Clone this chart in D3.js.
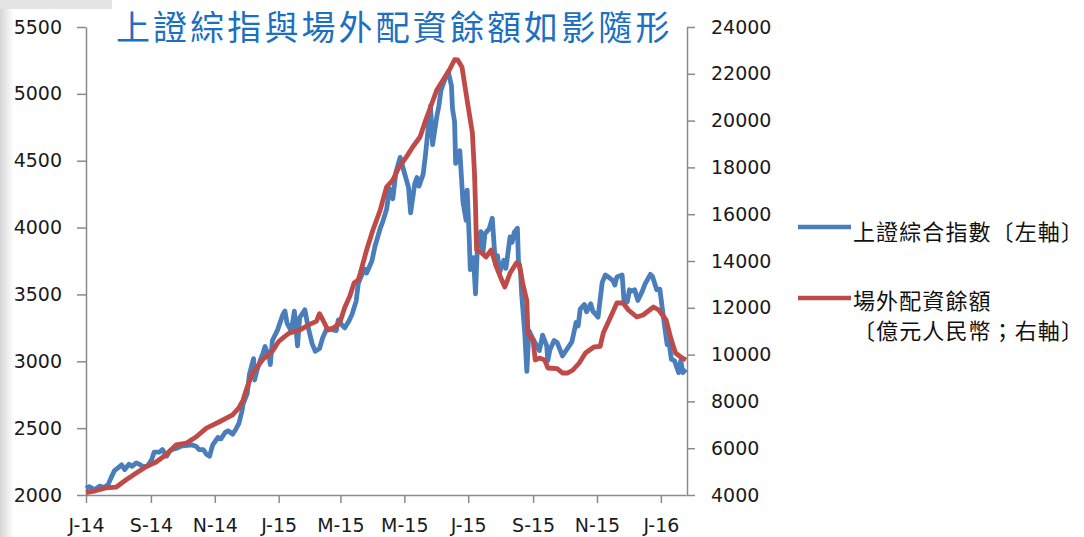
<!DOCTYPE html>
<html>
<head>
<meta charset="utf-8">
<script src="https://cdn.jsdelivr.net/npm/d3@7"></script>
<style>
  html, body { margin: 0; padding: 0; background: #fff; }
  svg { display: block; }
  .tick text { font-family: "DejaVu Sans", Verdana, sans-serif; font-size: 19px; fill: #1a1a1a; }
  .axis path, .axis line { stroke: #8a8a8a; stroke-width: 1.5px; }
</style>
</head>
<body>
<svg id="chart" width="1084" height="537"></svg>
<script>
var width = 1084;
var height = 537;

var titleText = '上證綜指與場外配資餘額如影隨形';
var legendLabels = ['上證綜合指數〔左軸〕', '場外配資餘額', '〔億元人民幣；右軸〕'];

// bimonthly ticks, labelled like J-14, S-14 ...
var xTickDates = ['2014-07-01', '2014-09-01', '2014-11-01', '2015-01-01', '2015-03-01',
  '2015-05-01', '2015-07-01', '2015-09-01', '2015-11-01', '2016-01-01'];
var leftTicks = [2000, 2500, 3000, 3500, 4000, 4500, 5000, 5500];
var rightTicks = [4000, 6000, 8000, 10000, 12000, 14000, 16000, 18000, 20000, 22000, 24000];

// 上證綜合指數 (left axis)
var sseData = [
  ['2014-07-01', 2050], ['2014-07-04', 2062], ['2014-07-09', 2040], ['2014-07-14', 2066],
  ['2014-07-18', 2058], ['2014-07-22', 2076], ['2014-07-25', 2130], ['2014-07-28', 2180],
  ['2014-07-31', 2200], ['2014-08-04', 2225], ['2014-08-07', 2190], ['2014-08-11', 2230],
  ['2014-08-14', 2215], ['2014-08-18', 2240], ['2014-08-21', 2230], ['2014-08-25', 2210],
  ['2014-08-29', 2218], ['2014-09-02', 2270], ['2014-09-04', 2320], ['2014-09-09', 2320],
  ['2014-09-12', 2340], ['2014-09-16', 2290], ['2014-09-19', 2330], ['2014-09-23', 2345],
  ['2014-09-26', 2350], ['2014-09-30', 2365], ['2014-10-10', 2375], ['2014-10-14', 2365],
  ['2014-10-17', 2340], ['2014-10-21', 2340], ['2014-10-24', 2305], ['2014-10-27', 2290],
  ['2014-10-30', 2375], ['2014-11-04', 2430], ['2014-11-07', 2420], ['2014-11-11', 2470],
  ['2014-11-14', 2480], ['2014-11-18', 2455], ['2014-11-21', 2490], ['2014-11-24', 2535],
  ['2014-11-27', 2630], ['2014-11-28', 2680], ['2014-12-02', 2760], ['2014-12-04', 2900],
  ['2014-12-08', 3020], ['2014-12-09', 2860], ['2014-12-11', 2925], ['2014-12-15', 3020],
  ['2014-12-17', 3060], ['2014-12-19', 3110], ['2014-12-23', 3030], ['2014-12-24', 2975],
  ['2014-12-26', 3155], ['2014-12-31', 3235], ['2015-01-05', 3350], ['2015-01-07', 3375],
  ['2015-01-09', 3285], ['2015-01-13', 3225], ['2015-01-16', 3375], ['2015-01-19', 3115],
  ['2015-01-21', 3325], ['2015-01-23', 3350], ['2015-01-26', 3385], ['2015-01-29', 3260],
  ['2015-02-02', 3130], ['2015-02-05', 3075], ['2015-02-09', 3095], ['2015-02-12', 3175],
  ['2015-02-16', 3245], ['2015-02-25', 3230], ['2015-02-27', 3310], ['2015-03-03', 3265],
  ['2015-03-05', 3250], ['2015-03-09', 3300], ['2015-03-12', 3350], ['2015-03-16', 3450],
  ['2015-03-18', 3580], ['2015-03-20', 3620], ['2015-03-24', 3690], ['2015-03-26', 3660],
  ['2015-03-31', 3750], ['2015-04-03', 3860], ['2015-04-08', 3995], ['2015-04-10', 4035],
  ['2015-04-14', 4135], ['2015-04-17', 4290], ['2015-04-20', 4215], ['2015-04-23', 4415],
  ['2015-04-27', 4525], ['2015-04-30', 4440], ['2015-05-05', 4300], ['2015-05-07', 4110],
  ['2015-05-11', 4330], ['2015-05-13', 4375], ['2015-05-15', 4310], ['2015-05-19', 4400],
  ['2015-05-21', 4530], ['2015-05-26', 4910], ['2015-05-28', 4620], ['2015-06-01', 4830],
  ['2015-06-03', 4910], ['2015-06-05', 5025], ['2015-06-09', 5115], ['2015-06-12', 5165],
  ['2015-06-15', 5060], ['2015-06-16', 4890], ['2015-06-18', 4790], ['2015-06-19', 4480],
  ['2015-06-23', 4575], ['2015-06-26', 4190], ['2015-06-29', 4055], ['2015-06-30', 4280],
  ['2015-07-02', 3915], ['2015-07-03', 3685], ['2015-07-06', 3775], ['2015-07-08', 3505],
  ['2015-07-09', 3710], ['2015-07-10', 3875], ['2015-07-13', 3970], ['2015-07-15', 3805],
  ['2015-07-17', 3955], ['2015-07-21', 3990], ['2015-07-24', 4070], ['2015-07-27', 3725],
  ['2015-07-29', 3790], ['2015-07-31', 3665], ['2015-08-04', 3755], ['2015-08-06', 3695],
  ['2015-08-10', 3930], ['2015-08-12', 3890], ['2015-08-14', 3965], ['2015-08-17', 3995],
  ['2015-08-18', 3750], ['2015-08-20', 3665], ['2015-08-21', 3510], ['2015-08-24', 3210],
  ['2015-08-26', 2925], ['2015-08-28', 3230], ['2015-09-01', 3165], ['2015-09-07', 3080],
  ['2015-09-10', 3195], ['2015-09-14', 3115], ['2015-09-15', 3005], ['2015-09-17', 3085],
  ['2015-09-21', 3155], ['2015-09-24', 3140], ['2015-09-29', 3040], ['2015-10-08', 3145],
  ['2015-10-12', 3290], ['2015-10-14', 3265], ['2015-10-16', 3390], ['2015-10-20', 3425],
  ['2015-10-22', 3370], ['2015-10-26', 3430], ['2015-10-28', 3375], ['2015-11-02', 3330],
  ['2015-11-04', 3460], ['2015-11-06', 3590], ['2015-11-09', 3645], ['2015-11-12', 3630],
  ['2015-11-16', 3605], ['2015-11-18', 3570], ['2015-11-20', 3630], ['2015-11-25', 3645],
  ['2015-11-27', 3435], ['2015-11-30', 3445], ['2015-12-02', 3535], ['2015-12-04', 3525],
  ['2015-12-07', 3535], ['2015-12-10', 3455], ['2015-12-14', 3520], ['2015-12-17', 3580],
  ['2015-12-22', 3650], ['2015-12-24', 3635], ['2015-12-28', 3535], ['2015-12-31', 3540],
  ['2016-01-04', 3295], ['2016-01-07', 3125], ['2016-01-08', 3185], ['2016-01-11', 3015],
  ['2016-01-14', 3005], ['2016-01-18', 2915], ['2016-01-20', 3005], ['2016-01-22', 2915],
  ['2016-01-25', 2940]
];

// 場外配資餘額, 億元人民幣 (right axis)
var marginData = [
  ['2014-07-01', 4100], ['2014-07-10', 4180], ['2014-07-20', 4300], ['2014-07-30', 4340],
  ['2014-08-08', 4640], ['2014-08-18', 4940], ['2014-08-27', 5200], ['2014-09-06', 5410],
  ['2014-09-15', 5710], ['2014-09-25', 6140], ['2014-10-05', 6220], ['2014-10-14', 6480],
  ['2014-10-24', 6860], ['2014-11-05', 7120], ['2014-11-18', 7420], ['2014-11-24', 7720],
  ['2014-11-28', 8060], ['2014-12-01', 8490], ['2014-12-07', 9210], ['2014-12-17', 9800],
  ['2014-12-26', 10150], ['2015-01-01', 10560], ['2015-01-06', 10750], ['2015-01-11', 10920],
  ['2015-01-21', 11050], ['2015-01-31', 11300], ['2015-02-06', 11420], ['2015-02-09', 11750],
  ['2015-02-12', 11500], ['2015-02-17', 11050], ['2015-02-24', 11180], ['2015-03-01', 11450],
  ['2015-03-05', 12000], ['2015-03-10', 12500], ['2015-03-14', 13060], ['2015-03-18', 13190],
  ['2015-03-20', 13490], ['2015-03-26', 14470], ['2015-04-01', 15325], ['2015-04-08', 16180],
  ['2015-04-14', 17160], ['2015-04-20', 17460], ['2015-04-26', 18017], ['2015-05-03', 18450],
  ['2015-05-09', 18872], ['2015-05-16', 19300], ['2015-05-22', 20100], ['2015-05-25', 20454],
  ['2015-06-01', 21309], ['2015-06-07', 21736], ['2015-06-13', 22163], ['2015-06-18', 22600],
  ['2015-06-21', 22590], ['2015-06-25', 22291], ['2015-06-28', 21437], ['2015-07-01', 20582],
  ['2015-07-05', 19471], ['2015-07-07', 17761], ['2015-07-08', 16308], ['2015-07-09', 14470],
  ['2015-07-14', 14342], ['2015-07-18', 14171], ['2015-07-23', 14470], ['2015-07-28', 13744],
  ['2015-08-02', 13188], ['2015-08-05', 12889], ['2015-08-10', 13487], ['2015-08-16', 13915],
  ['2015-08-19', 13829], ['2015-08-22', 13060], ['2015-08-26', 12300], ['2015-08-27', 10923],
  ['2015-08-29', 10752], ['2015-09-01', 10624], ['2015-09-03', 9770], ['2015-09-07', 9850],
  ['2015-09-12', 9770], ['2015-09-15', 9428], ['2015-09-24', 9400], ['2015-09-29', 9214],
  ['2015-10-04', 9214], ['2015-10-09', 9342], ['2015-10-15', 9641], ['2015-10-21', 10068],
  ['2015-10-29', 10325], ['2015-11-04', 10350], ['2015-11-07', 10923], ['2015-11-14', 11607],
  ['2015-11-20', 12205], ['2015-11-26', 12205], ['2015-12-01', 11906], ['2015-12-09', 11607],
  ['2015-12-15', 11692], ['2015-12-25', 12034], ['2015-12-30', 11906], ['2016-01-06', 11479],
  ['2016-01-11', 10624], ['2016-01-15', 10068], ['2016-01-20', 9898], ['2016-01-25', 9770]
];

var parseDate = d3.timeParse('%Y-%m-%d');
var margin = { top: 27, right: 398, bottom: 42, left: 86 };
var plotW = width - margin.left - margin.right;
var plotH = height - margin.top - margin.bottom;

var xScale = d3.scaleTime()
    .domain([parseDate('2014-07-01'), parseDate('2016-01-25')])
    .range([0, plotW]);

var yLeft = d3.scaleLinear()
    .domain([2000, 5500])
    .range([plotH, 0]);

var yRight = d3.scaleLinear()
    .domain([4000, 24000])
    .range([plotH, 0]);

var svg = d3.select('#chart');

// faint grey slide edge on the left
var defs = svg.append('defs');
var grad = defs.append('linearGradient').attr('id', 'edge');
grad.append('stop').attr('offset', '0%').attr('stop-color', '#d6d6d6');
grad.append('stop').attr('offset', '100%').attr('stop-color', '#ffffff');
svg.append('rect').attr('x', 0).attr('y', 0).attr('width', 14).attr('height', height)
    .attr('fill', 'url(#edge)');
svg.append('rect').attr('x', 0).attr('y', 0).attr('width', 112).attr('height', 9)
    .attr('fill', '#e4e4e4');

svg.append('text')
    .attr('x', 116)
    .attr('y', 40)
    .attr('font-family', '"Noto Sans CJK TC", sans-serif')
    .attr('font-size', 34)
    .attr('letter-spacing', 3.1)
    .attr('fill', '#1c6fc1')
    .text(titleText);

var g = svg.append('g')
    .attr('transform', 'translate(' + margin.left + ',' + margin.top + ')');

var monthFmt = d3.timeFormat('%b');
var yearFmt = d3.timeFormat('%y');

g.append('g')
    .attr('class', 'axis')
    .attr('transform', 'translate(0,' + plotH + ')')
    .call(d3.axisBottom(xScale)
      .tickValues(xTickDates.map(parseDate))
      .tickFormat(d => monthFmt(d)[0] + '-' + yearFmt(d))
      .tickSize(8)
      .tickSizeOuter(0)
      .tickPadding(16));

g.append('g')
    .attr('class', 'axis')
    .call(d3.axisLeft(yLeft)
      .tickValues(leftTicks)
      .tickFormat(d3.format('d'))
      .tickSize(9)
      .tickSizeOuter(0)
      .tickPadding(15));

g.append('g')
    .attr('class', 'axis')
    .attr('transform', 'translate(' + (plotW + 1) + ',0)')
    .call(d3.axisRight(yRight)
      .tickValues(rightTicks)
      .tickFormat(d3.format('d'))
      .tickSize(8)
      .tickSizeOuter(0)
      .tickPadding(16));

var sseLine = d3.line()
    .x(d => xScale(parseDate(d[0])))
    .y(d => yLeft(d[1]));

var marginLine = d3.line()
    .x(d => xScale(parseDate(d[0])))
    .y(d => yRight(d[1]));

g.append('path')
    .datum(sseData)
    .attr('d', sseLine)
    .attr('fill', 'none')
    .attr('stroke', '#4a7ebb')
    .attr('stroke-width', 4.8)
    .attr('stroke-linejoin', 'round');

g.append('path')
    .datum(marginData)
    .attr('d', marginLine)
    .attr('fill', 'none')
    .attr('stroke', '#be4b48')
    .attr('stroke-width', 4.8)
    .attr('stroke-linejoin', 'round');

// legend
var legend = svg.append('g')
    .attr('font-family', '"Noto Sans CJK TC", sans-serif')
    .attr('font-size', 22)
    .attr('fill', '#111');

legend.append('line')
    .attr('x1', 798).attr('x2', 851).attr('y1', 227).attr('y2', 227)
    .attr('stroke', '#4a7ebb').attr('stroke-width', 4.5);
legend.append('text').attr('x', 853).attr('y', 240)
    .attr('letter-spacing', 1.1).text(legendLabels[0]);

legend.append('line')
    .attr('x1', 798).attr('x2', 851).attr('y1', 298).attr('y2', 298)
    .attr('stroke', '#be4b48').attr('stroke-width', 4.5);
legend.append('text').attr('x', 853).attr('y', 309)
    .attr('letter-spacing', 1.1).text(legendLabels[1]);
legend.append('text').attr('x', 853).attr('y', 339)
    .attr('letter-spacing', 1.1).text(legendLabels[2]);
</script>
</body>
</html>
